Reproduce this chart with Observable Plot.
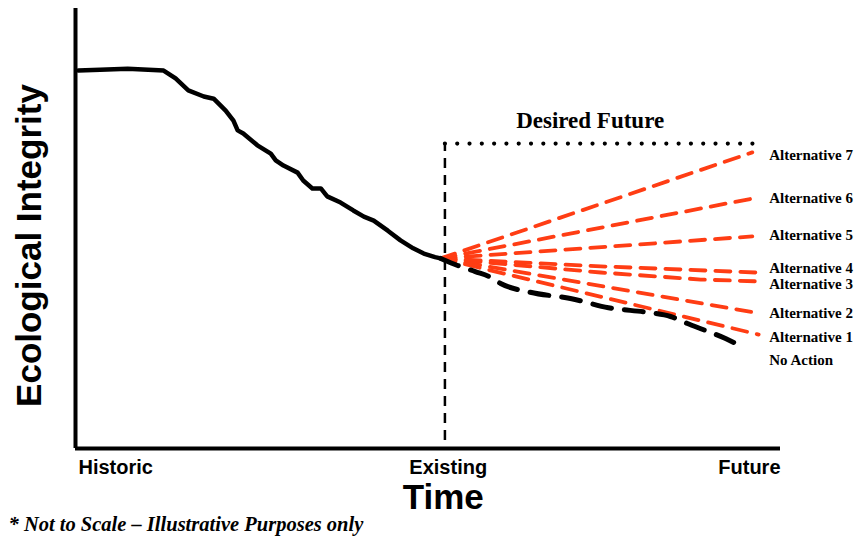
<!DOCTYPE html>
<html>
<head>
<meta charset="utf-8">
<script src="https://cdn.jsdelivr.net/npm/d3@7"></script>
<script src="https://cdn.jsdelivr.net/npm/@observablehq/plot@0.6"></script>
<style>
  html, body { margin: 0; padding: 0; background: #fff; }
  #chart svg { display: block; }
</style>
</head>
<body>
<div id="chart"></div>
<script>
// ---- data (time 0..100, ecological integrity 0..100; illustrative) ----
const historicT = [0.4, 3.5, 7.4, 12.5, 14.2, 16.0, 18.2, 19.6, 21.3, 22.4, 23.0, 23.8, 25.8, 27.7, 28.4, 29.5, 31.5, 32.3, 33.6, 34.8, 35.7, 37.6, 39.4, 40.9, 42.3, 44.3, 46.1, 47.9, 49.4, 51.0, 51.8];
const historicV = [85.9, 86.1, 86.3, 85.9, 84.1, 81.4, 80.0, 79.5, 76.8, 74.5, 72.3, 71.6, 68.9, 67.0, 65.5, 64.3, 62.7, 60.9, 59.1, 59.1, 57.3, 55.9, 54.1, 52.7, 51.8, 49.5, 47.3, 45.5, 44.3, 43.5, 43.2];

const noActionT = [51.8, 54.2, 56.7, 58.9, 60.3, 64.5, 70.2, 75.6, 81.3, 84.4, 86.8, 89.4, 92.2, 93.6];
const noActionV = [43.2, 41.6, 40.2, 38.9, 37.5, 35.5, 34.1, 32.0, 30.9, 30.0, 28.4, 26.8, 25.0, 23.9];

const alternativeNames = ["Alternative 1", "Alternative 2", "Alternative 3", "Alternative 4", "Alternative 5", "Alternative 6", "Alternative 7"];
const alt1 = [[51.8, 43.2], [96.9, 25.9]];
const alt2 = [[51.8, 43.2], [96.0, 31.0]];
const alt3 = [[51.8, 43.2], [74.5, 40.0], [88.7, 38.4], [96.5, 38.0]];
const alt4 = [[51.8, 43.2], [74.5, 41.4], [96.5, 40.0]];
const alt5 = [[51.8, 43.2], [96.0, 48.2]];
const alt6 = [[51.8, 43.2], [96.0, 56.8]];
const alt7 = [[51.8, 43.2], [96.0, 67.3]];

const existingT = 52.4;
const desiredT = [52.4, 96.9];
const desiredV = 69.3;
const vBottom = 1.8;

const seriesLabels = ["Alternative 7", "Alternative 6", "Alternative 5", "Alternative 4", "Alternative 3", "Alternative 2", "Alternative 1", "No Action"];
const seriesLabelY = [66.6, 56.8, 48.4, 40.9, 37.3, 30.7, 25.2, 20.0];
const seriesLabelT = 98.4;

const tickLabels = ["Historic", "Existing", "Future"];
const tickT = [0, 52.3, 100];

// ---- build tables ----
const historic = historicT.map((t, i) => ({t, v: historicV[i]}));
const noAction = noActionT.map((t, i) => ({t, v: noActionV[i]}));
const alts = [alt1, alt2, alt3, alt4, alt5, alt6, alt7].flatMap((pts, k) =>
  pts.map(([t, v]) => ({name: alternativeNames[k], t, v})));
const desired = desiredT.map(t => ({t, v: desiredV}));
const seriesLab = seriesLabels.map((s, i) => ({s, t: seriesLabelT, v: seriesLabelY[i]}));

const RED = "#ff3d14";
const SANS = "Liberation Sans, Arial, sans-serif";
const SERIF = "Liberation Serif, Times New Roman, serif";

const chart = Plot.plot({
  width: 858,
  height: 539,
  marginLeft: 75,
  marginRight: 78,
  marginTop: 8,
  marginBottom: 91,
  x: {domain: [0, 100], axis: null},
  y: {domain: [0, 100], axis: null},
  style: {background: "#fff", overflow: "visible"},
  marks: [
    // axes
    Plot.ruleX([0], {stroke: "#000", strokeWidth: 4}),
    Plot.ruleY([0], {stroke: "#000", strokeWidth: 4}),
    // existing vertical dashed
    Plot.ruleX([existingT], {y1: vBottom, y2: desiredV, stroke: "#000", strokeWidth: 2.5, strokeDasharray: "10,7"}),
    // desired future dotted
    Plot.line(desired, {x: "t", y: "v", stroke: "#000", strokeWidth: 4.2, strokeLinecap: "round", strokeDasharray: "0,12.3"}),
    // alternatives
    Plot.line(alts, {x: "t", y: "v", z: "name", stroke: RED, strokeWidth: 3.8, strokeDasharray: "15,10"}),
    // no action
    Plot.line(noAction, {x: "t", y: "v", stroke: "#000", strokeWidth: 5, strokeDasharray: "19,13", curve: "monotone-x"}),
    // historic
    Plot.line(historic, {x: "t", y: "v", stroke: "#000", strokeWidth: 4.5, strokeLinejoin: "round", strokeLinecap: "round"}),
    // labels
    Plot.text(["Desired Future"], {x: 73.0, y: desiredV, dy: -23, text: d => d, fontFamily: SERIF, fontWeight: "bold", fontSize: 23, fill: "#000"}),
    Plot.text(seriesLab, {x: "t", y: "v", text: "s", textAnchor: "start", fontFamily: SERIF, fontWeight: "bold", fontSize: 15, fill: "#000"}),
    Plot.text([tickLabels[0]], {x: tickT[0], frameAnchor: "bottom", dy: 25, dx: 3, textAnchor: "start", text: d => d, fontFamily: SANS, fontWeight: "bold", fontSize: 20, fill: "#000"}),
    Plot.text([tickLabels[1]], {x: tickT[1], frameAnchor: "bottom", dy: 25, dx: 4, text: d => d, fontFamily: SANS, fontWeight: "bold", fontSize: 20, fill: "#000"}),
    Plot.text([tickLabels[2]], {x: tickT[2], frameAnchor: "bottom", dy: 25, textAnchor: "end", text: d => d, fontFamily: SANS, fontWeight: "bold", fontSize: 20, fill: "#000"}),
    Plot.text(["Time"], {x: 52.3, frameAnchor: "bottom", dy: 60, dx: -1, text: d => d, fontFamily: SANS, fontWeight: "bold", fontSize: 35, fill: "#000"}),
    Plot.text(["Ecological Integrity"], {frameAnchor: "left", dx: -46, dy: 17, rotate: -90, textAnchor: "middle", text: d => d, fontFamily: SANS, fontWeight: "bold", fontSize: 35, fill: "#000"}),
    Plot.text(["* Not to Scale \u2013 Illustrative Purposes only"], {frameAnchor: "bottom-left", dx: -67, dy: 82, textAnchor: "start", text: d => d, fontFamily: SERIF, fontWeight: "bold", fontStyle: "italic", fontSize: 20.5, fill: "#000"})
  ]
});
document.getElementById("chart").appendChild(chart);
</script>
</body>
</html>
